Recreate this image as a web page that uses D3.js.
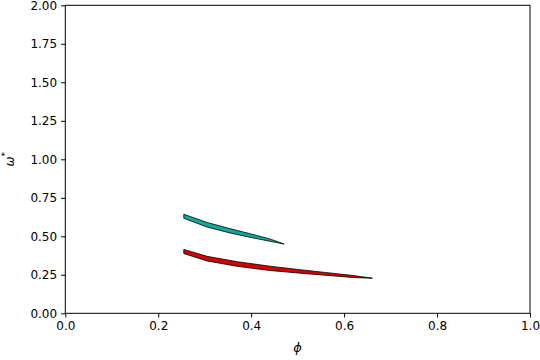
<!DOCTYPE html>
<html><head><meta charset="utf-8">
<script src="https://cdn.jsdelivr.net/npm/d3@7"></script>
<style>body{margin:0;background:#fff}svg{display:block}text{font-family:"DejaVu Sans",sans-serif}</style>
</head><body><svg id="c" width="540" height="360"></svg>
<script>
const xTicks = [0.0, 0.2, 0.4, 0.6, 0.8, 1.0];
const yTicks = [0.00, 0.25, 0.50, 0.75, 1.00, 1.25, 1.50, 1.75, 2.00];

const tealPhi = [0.255, 0.305, 0.354, 0.40, 0.44, 0.471];
const tealTop = [0.643, 0.590, 0.550, 0.515, 0.483, 0.450];
const tealBot = [0.617, 0.560, 0.522, 0.492, 0.468, 0.450];

const redPhi = [0.255, 0.305, 0.37, 0.44, 0.50, 0.56, 0.62, 0.661];
const redTop = [0.415, 0.370, 0.335, 0.306, 0.285, 0.265, 0.245, 0.228];
const redBot = [0.388, 0.340, 0.305, 0.278, 0.262, 0.247, 0.232, 0.228];

const svg = d3.select("#c");
const L = 65.3, R = 530, T = 5.3, B = 313.3;
const x = d3.scaleLinear().domain([0, 1]).range([L, R]);
const y = d3.scaleLinear().domain([0, 2]).range([B, T]);

function band(phi, top, bot, color) {
  const pts = phi.map((p, i) => ({p, t: top[i], b: bot[i]}));
  const area = d3.area().x(d => x(d.p)).y0(d => y(d.b)).y1(d => y(d.t));
  svg.append("path").attr("d", area(pts)).attr("fill", color)
    .attr("stroke", "#000").attr("stroke-width", 0.8).attr("stroke-linejoin", "round");
}
band(tealPhi, tealTop, tealBot, "#10aa9c");
band(redPhi, redTop, redBot, "#d40000");

const xa = svg.append("g").attr("transform", `translate(0,${B})`)
  .call(d3.axisBottom(x).tickValues(xTicks).tickFormat(d3.format(".1f")).tickSize(4.2).tickPadding(4));
const ya = svg.append("g").attr("transform", `translate(${L},0)`)
  .call(d3.axisLeft(y).tickValues(yTicks).tickFormat(d3.format(".2f")).tickSize(4.2).tickPadding(4));
[xa, ya].forEach(g => {
  g.select(".domain").remove();
  g.selectAll("text").attr("font-size", 12).attr("fill", "#000").style("font-family", "DejaVu Sans");
  g.selectAll("line").attr("stroke", "#000").attr("stroke-width", 1);
});
svg.append("rect").attr("x", L).attr("y", T).attr("width", R - L).attr("height", B - T)
  .attr("fill", "none").attr("stroke", "#000").attr("stroke-width", 1);

svg.append("text").attr("x", (L + R) / 2).attr("y", 352).attr("text-anchor", "middle")
  .attr("font-size", 13).style("font-style", "italic").text("ϕ");
const yl = svg.append("text").attr("transform", `translate(14,${(T + B) / 2}) rotate(-90)`)
  .attr("text-anchor", "middle").attr("font-size", 12);
yl.append("tspan").style("font-style", "italic").text("ω");
yl.append("tspan").attr("dy", -6).attr("font-size", 9).text("*");
</script></body></html>
